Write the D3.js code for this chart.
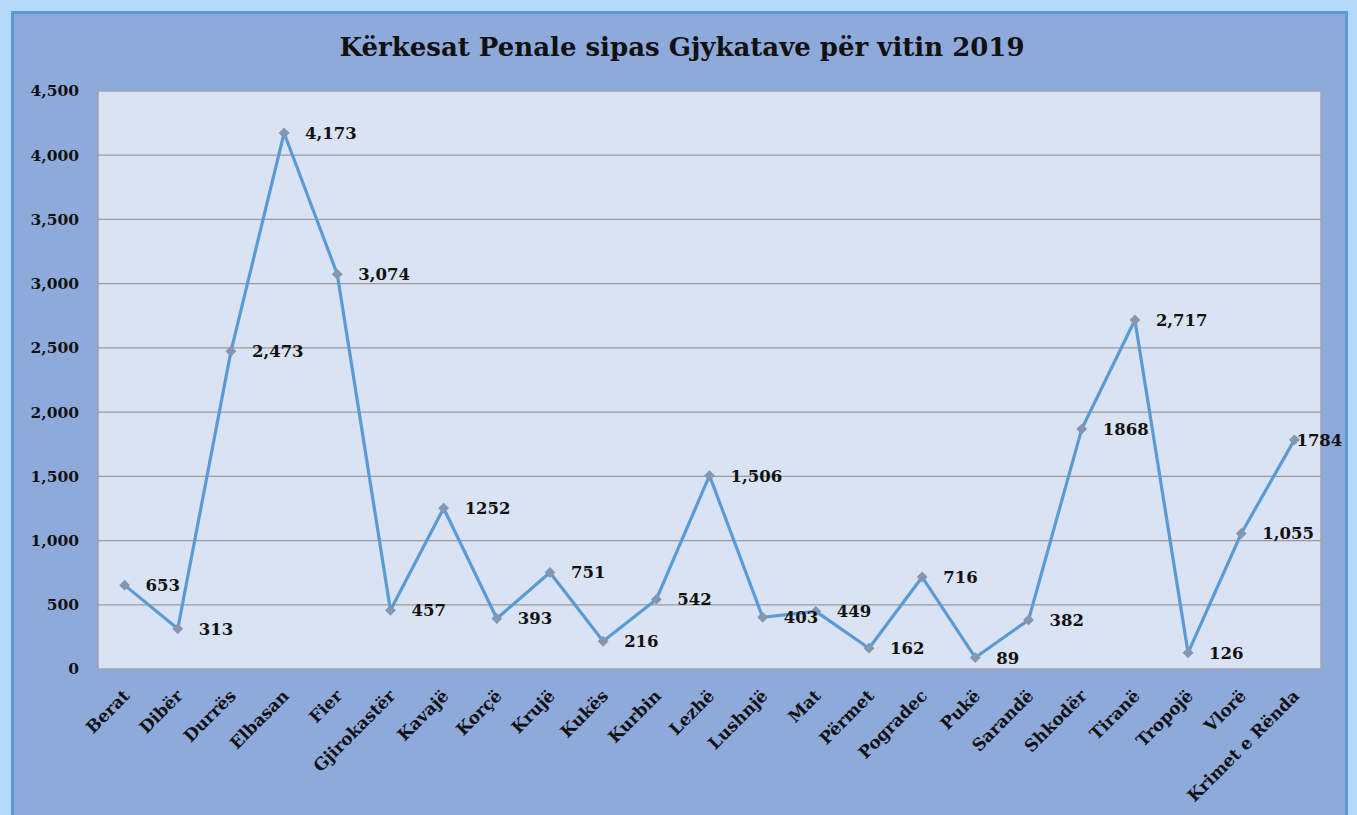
<!DOCTYPE html>
<html>
<head>
<meta charset="utf-8">
<script src="https://cdn.jsdelivr.net/npm/d3@7"></script>
<style>
  body { margin: 0; background: #b5d9f9; }
  svg { display: block; }
</style>
</head>
<body>
<div id="container"></div>
<script>
var categories = ["Berat", "Dibër", "Durrës", "Elbasan", "Fier", "Gjirokastër", "Kavajë", "Korçë", "Krujë",
  "Kukës", "Kurbin", "Lezhë", "Lushnjë", "Mat", "Përmet", "Pogradec", "Pukë", "Sarandë", "Shkodër",
  "Tiranë", "Tropojë", "Vlorë", "Krimet e Rënda"];
var values = [653, 313, 2473, 4173, 3074, 457, 1252, 393, 751, 216, 542, 1506, 403, 449, 162, 716, 89, 382, 1868, 2717, 126, 1055, 1784];
var valueLabels = ["653", "313", "2,473", "4,173", "3,074", "457", "1252", "393", "751", "216", "542", "1,506", "403", "449",
  "162", "716", "89", "382", "1868", "2,717", "126", "1,055", "1784"];
var yTicks = [0, 500, 1000, 1500, 2000, 2500, 3000, 3500, 4000, 4500];

var W = 1357, H = 815;
var serif = "'DejaVu Serif', 'Liberation Serif', serif";

var svg = d3.select("div#container").append("svg").attr("width", W).attr("height", H);

// outer chart frame
svg.append("rect").attr("x", 12.5).attr("y", 12.5).attr("width", 1334).attr("height", 820)
   .attr("fill", "#8eaadb").attr("stroke", "#5b9bd5").attr("stroke-width", 3);

var margin = {top: 91, left: 98, right: 36, bottom: 146};
var width = W - margin.left - margin.right,
    height = H - margin.top - margin.bottom;

var g = svg.append("g").attr("transform", "translate(" + margin.left + "," + margin.top + ")");

var xScale = d3.scaleBand().domain(categories).range([0, width]);
var yScale = d3.scaleLinear().domain([0, 4500]).range([height, 0]);

// plot area
g.append("rect").attr("width", width).attr("height", height)
 .attr("fill", "#dae3f3").attr("stroke", "#a0a4ab").attr("stroke-width", 1.5);

// gridlines
g.selectAll("line.grid").data(yTicks.slice(1, -1)).enter().append("line")
 .attr("class", "grid")
 .attr("x1", 0).attr("x2", width)
 .attr("y1", function(d) { return yScale(d); }).attr("y2", function(d) { return yScale(d); })
 .attr("stroke", "#9a9a9a").attr("stroke-width", 1.3);

// y axis labels
var yAxis = d3.axisLeft(yScale).tickValues(yTicks).tickSize(0).tickPadding(19).tickFormat(d3.format(","));
var gy = g.append("g").call(yAxis);
gy.select(".domain").remove();
gy.selectAll("text").style("font-family", serif).style("font-weight", "bold")
  .style("font-size", "15.5px").attr("fill", "#111");

// x axis labels (rotated)
var xAxis = d3.axisBottom(xScale).tickSize(0).tickPadding(0);
var gx = g.append("g").attr("transform", "translate(0," + height + ")").call(xAxis);
gx.select(".domain").remove();
gx.selectAll("text")
  .attr("dy", null).attr("y", 0)
  .attr("transform", "translate(6,28) rotate(-45)")
  .style("text-anchor", "end")
  .style("font-family", serif).style("font-weight", "bold")
  .style("font-size", "17px").attr("fill", "#111");

var cx = function(d, i) { return xScale(categories[i]) + xScale.bandwidth() / 2; };

var line = d3.line()
  .x(function(d, i) { return cx(d, i); })
  .y(function(d) { return yScale(d); });

g.append("path").datum(values)
 .attr("d", line).attr("fill", "none")
 .attr("stroke", "#5b9bd5").attr("stroke-width", 3.2).attr("stroke-linejoin", "round");

g.selectAll("path.marker").data(values).enter().append("path")
 .attr("class", "marker")
 .attr("d", d3.symbol().type(d3.symbolDiamond2).size(75))
 .attr("transform", function(d, i) { return "translate(" + cx(d, i) + "," + yScale(d) + ")"; })
 .attr("fill", "#8497b0");

// data labels, last one pulled in against the point
g.selectAll("text.vlabel").data(values).enter().append("text")
 .attr("class", "vlabel")
 .attr("x", function(d, i) { return cx(d, i) + (i === values.length - 1 ? 2 : 21); })
 .attr("y", function(d) { return yScale(d); })
 .attr("dy", "0.36em")
 .style("font-family", serif).style("font-weight", "bold").style("font-size", "16.5px")
 .attr("fill", "#111")
 .text(function(d, i) { return valueLabels[i]; });

// title
svg.append("text").attr("x", 682).attr("y", 56).attr("text-anchor", "middle")
 .style("font-family", serif).style("font-weight", "bold").style("font-size", "26px")
 .attr("fill", "#111")
 .text("Kërkesat Penale sipas Gjykatave për vitin 2019");
</script>
</body>
</html>
